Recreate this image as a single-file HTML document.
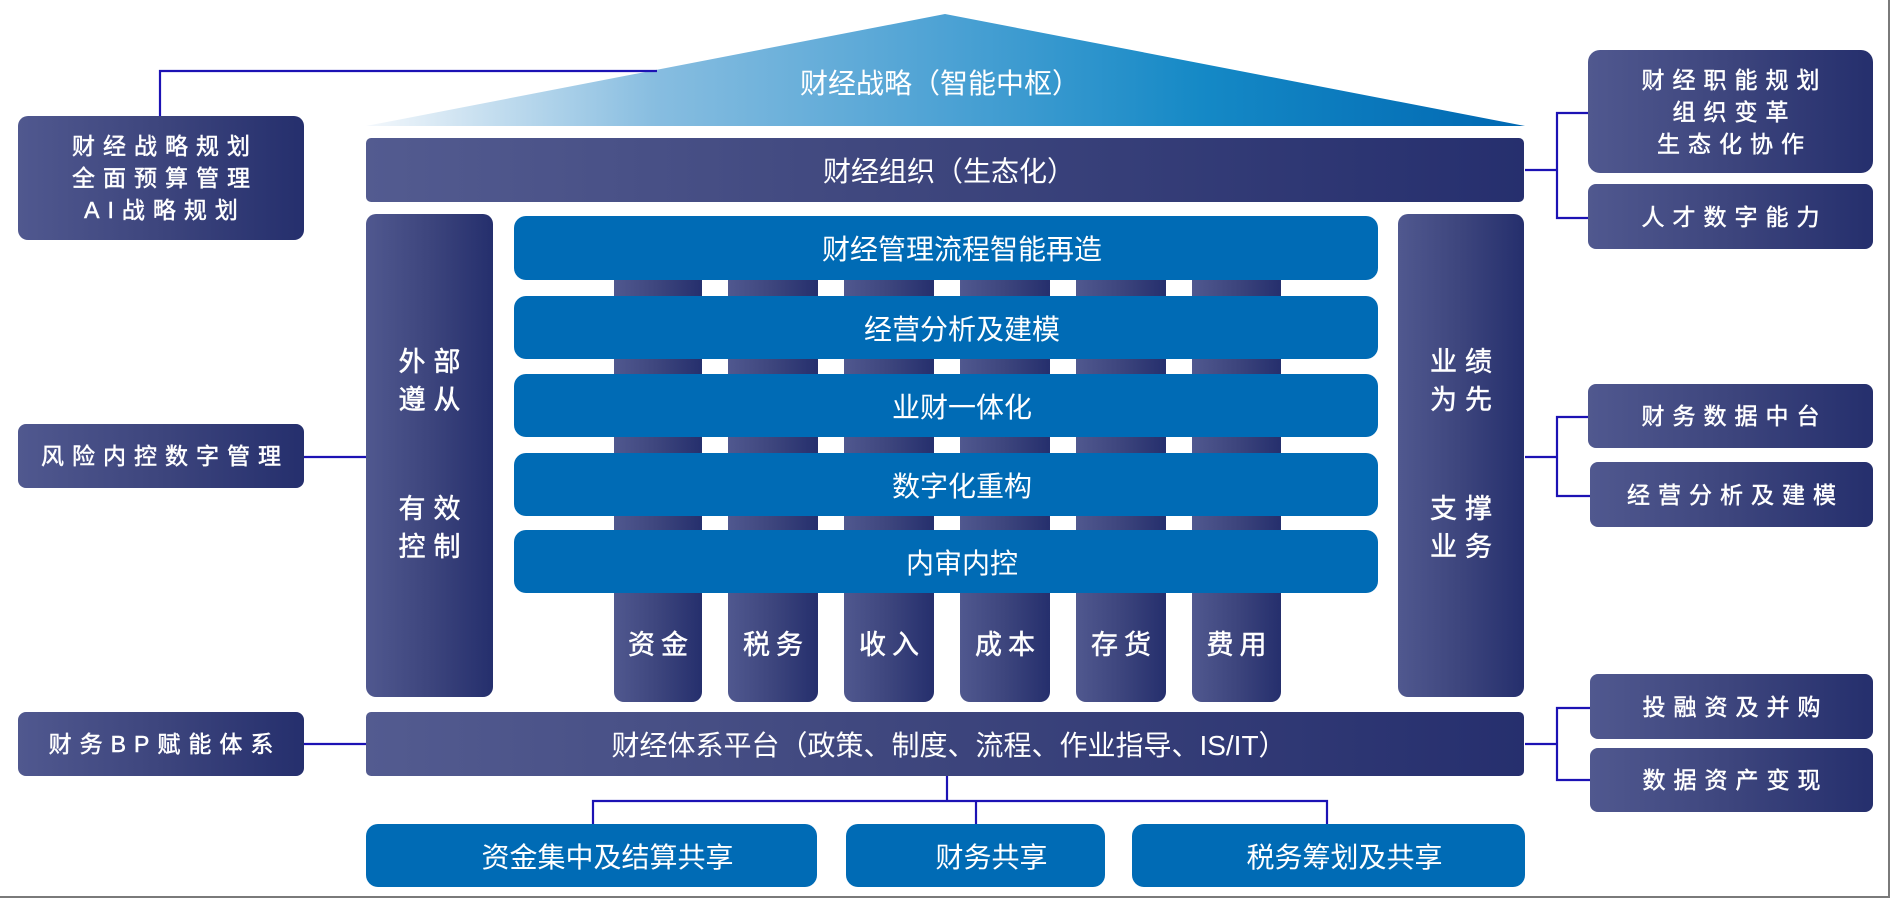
<!DOCTYPE html>
<html>
<head>
<meta charset="utf-8">
<style>
html,body{margin:0;padding:0;}
body{width:1890px;height:898px;position:relative;overflow:hidden;background:#fff;
font-family:"Liberation Sans","Noto Sans CJK SC",sans-serif;color:#fff;}
.a{position:absolute;box-sizing:border-box;}
.navy{background:linear-gradient(to right,#50588f 0%,#3d457d 50%,#252f6d 100%);}
.navyw{background:linear-gradient(to right,#535b90 0%,#3f477e 45%,#262f6e 100%);}
.blue{background:#006bb5;}
.c{display:flex;align-items:center;justify-content:center;text-align:center;}
.bt{font-size:28px;padding-left:32px;white-space:nowrap;}
.side{font-size:23px;letter-spacing:8px;padding-left:8px;line-height:32px;white-space:nowrap;-webkit-text-stroke:0.5px #fff;}
.pil{font-size:27px;letter-spacing:8px;padding-left:8px;line-height:38px;-webkit-text-stroke:0.5px #fff;}
.col{font-size:27px;letter-spacing:6px;padding-left:6px;-webkit-text-stroke:0.5px #fff;}
</style>
</head>
<body>

<!-- roof -->
<svg class="a" style="left:0;top:0" width="1890" height="898">
  <defs>
    <linearGradient id="roof" gradientUnits="userSpaceOnUse" x1="366" y1="0" x2="1525" y2="0">
      <stop offset="0" stop-color="#f4f8fc"/>
      <stop offset="0.08" stop-color="#d0e4f2"/>
      <stop offset="0.25" stop-color="#87bde0"/>
      <stop offset="0.5" stop-color="#4da2d4"/>
      <stop offset="0.72" stop-color="#1589c6"/>
      <stop offset="1" stop-color="#0068b2"/>
    </linearGradient>
  </defs>
  <polygon points="366,126 945,14 1525,126" fill="url(#roof)"/>
  <g fill="none" stroke="#1c12b4" stroke-width="2.2">
    <path d="M160,116 V71 H657"/>
    <path d="M304,457 H366"/>
    <path d="M304,744 H366"/>
    <path d="M1525,170 H1557"/>
    <path d="M1588,113 H1557 V218 H1588"/>
    <path d="M1525,457 H1557"/>
    <path d="M1588,417 H1557 V496 H1590"/>
    <path d="M1525,744 H1557"/>
    <path d="M1590,708 H1557 V780 H1590"/>
    <path d="M947,776 V801"/>
    <path d="M593,824 V801 H1327 V824"/>
    <path d="M976,801 V824"/>
  </g>
</svg>

<div class="a c" style="left:800px;top:62px;width:280px;height:40px;font-size:28px;white-space:nowrap;">财经战略（智能中枢）</div>

<!-- organisation bar -->
<div class="a navyw c bt" style="left:366px;top:138px;width:1158px;height:64px;border-radius:5px;padding-left:8px;">财经组织（生态化）</div>

<!-- pillars -->
<div class="a navy" style="left:366px;top:214px;width:127px;height:483px;border-radius:10px;"></div>
<div class="a c pil" style="left:366px;top:342px;width:127px;height:78px;">外部<br>遵从</div>
<div class="a c pil" style="left:366px;top:489px;width:127px;height:78px;">有效<br>控制</div>

<div class="a navy" style="left:1398px;top:214px;width:126px;height:483px;border-radius:10px;"></div>
<div class="a c pil" style="left:1398px;top:342px;width:126px;height:78px;">业绩<br>为先</div>
<div class="a c pil" style="left:1398px;top:489px;width:126px;height:78px;">支撑<br>业务</div>

<!-- columns -->
<div class="a navy" style="left:614px;top:250px;width:88px;height:452px;border-radius:0 0 10px 10px;"></div>
<div class="a navy" style="left:728px;top:250px;width:90px;height:452px;border-radius:0 0 10px 10px;"></div>
<div class="a navy" style="left:844px;top:250px;width:90px;height:452px;border-radius:0 0 10px 10px;"></div>
<div class="a navy" style="left:960px;top:250px;width:90px;height:452px;border-radius:0 0 10px 10px;"></div>
<div class="a navy" style="left:1076px;top:250px;width:90px;height:452px;border-radius:0 0 10px 10px;"></div>
<div class="a navy" style="left:1192px;top:250px;width:89px;height:452px;border-radius:0 0 10px 10px;"></div>

<div class="a c col" style="left:614px;top:622px;width:88px;height:40px;">资金</div>
<div class="a c col" style="left:728px;top:622px;width:90px;height:40px;">税务</div>
<div class="a c col" style="left:844px;top:622px;width:90px;height:40px;">收入</div>
<div class="a c col" style="left:960px;top:622px;width:90px;height:40px;">成本</div>
<div class="a c col" style="left:1076px;top:622px;width:90px;height:40px;">存货</div>
<div class="a c col" style="left:1192px;top:622px;width:89px;height:40px;">费用</div>

<!-- blue bars -->
<div class="a blue c bt" style="left:514px;top:216px;width:864px;height:64px;border-radius:12px;">财经管理流程智能再造</div>
<div class="a blue c bt" style="left:514px;top:296px;width:864px;height:63px;border-radius:12px;">经营分析及建模</div>
<div class="a blue c bt" style="left:514px;top:374px;width:864px;height:63px;border-radius:12px;">业财一体化</div>
<div class="a blue c bt" style="left:514px;top:453px;width:864px;height:63px;border-radius:12px;">数字化重构</div>
<div class="a blue c bt" style="left:514px;top:530px;width:864px;height:63px;border-radius:12px;">内审内控</div>

<!-- platform -->
<div class="a navyw c bt" style="left:366px;top:712px;width:1158px;height:64px;border-radius:5px;padding-left:8px;">财经体系平台（政策、制度、流程、作业指导、IS/IT）</div>

<!-- bottom boxes -->
<div class="a blue c bt" style="left:366px;top:824px;width:451px;height:63px;border-radius:12px;">资金集中及结算共享</div>
<div class="a blue c bt" style="left:846px;top:824px;width:259px;height:63px;border-radius:12px;">财务共享</div>
<div class="a blue c bt" style="left:1132px;top:824px;width:393px;height:63px;border-radius:12px;">税务筹划及共享</div>

<!-- left side boxes -->
<div class="a navy c side" style="left:18px;top:116px;width:286px;height:124px;border-radius:10px;">财经战略规划<br>全面预算管理<br>AI战略规划</div>
<div class="a navy c side" style="left:18px;top:424px;width:286px;height:64px;border-radius:8px;">风险内控数字管理</div>
<div class="a navy c side" style="left:18px;top:712px;width:286px;height:64px;border-radius:8px;">财务BP赋能体系</div>

<!-- right side boxes -->
<div class="a navy c side" style="left:1588px;top:50px;width:285px;height:123px;border-radius:12px;">财经职能规划<br>组织变革<br>生态化协作</div>
<div class="a navy c side" style="left:1588px;top:184px;width:285px;height:65px;border-radius:8px;">人才数字能力</div>
<div class="a navy c side" style="left:1588px;top:384px;width:285px;height:64px;border-radius:8px;">财务数据中台</div>
<div class="a navy c side" style="left:1590px;top:462px;width:283px;height:65px;border-radius:8px;">经营分析及建模</div>
<div class="a navy c side" style="left:1590px;top:674px;width:283px;height:65px;border-radius:8px;">投融资及并购</div>
<div class="a navy c side" style="left:1590px;top:748px;width:283px;height:64px;border-radius:8px;">数据资产变现</div>

<!-- frame edges -->
<div class="a" style="left:1888px;top:0;width:2px;height:898px;background:#7a7a7a;"></div>
<div class="a" style="left:0;top:896px;width:1890px;height:2px;background:#7a7a7a;"></div>

</body>
</html>
